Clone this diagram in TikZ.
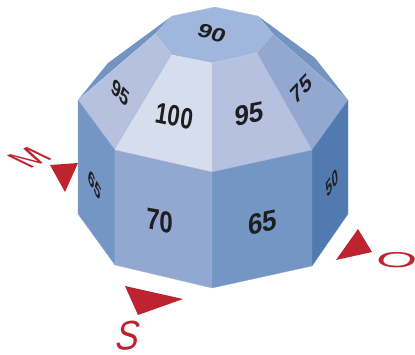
\documentclass[tikz,border=0pt]{standalone}
\usepackage{fontspec}
\setmainfont{Liberation Sans}
\definecolor{ctop}{HTML}{A0B6DC}
\definecolor{cmid}{HTML}{B5C1DE}
\definecolor{clight}{HTML}{D6DDED}
\definecolor{cfl}{HTML}{93A8D0}
\definecolor{cfr}{HTML}{7396C4}
\definecolor{cdark}{HTML}{517BB0}
\definecolor{cback}{HTML}{7394C2}
\definecolor{cred}{HTML}{BE2330}
\definecolor{cink}{HTML}{1E1E20}
\tikzset{
  facet/.style={line width=0.3pt,draw=#1!80!white,fill=#1},
  marker/.style={fill=cred},
}
\newcommand{\lab}[8]{\node[inner sep=0pt,text=cink,cm={#4,#5,#6,#7,(#2,#3)}] (#1) {\fontsize{20}{20}\selectfont\bfseries #8};}
\newcommand{\compass}[8]{\node[inner sep=0pt,text=cred,cm={#4,#5,#6,#7,(#2,#3)}] (#1) {\fontsize{20}{20}\selectfont\itshape #8};}
\begin{document}
\begin{tikzpicture}[x=1pt,y=-1pt]
\useasboundingbox (0,0) rectangle (415,354);
\fill[cback] (172,16)--(155,34)--(78,100)--(108,63)--cycle;
\fill[cback] (258,16)--(273,34)--(348,100)--(315,58)--cycle;
\draw[facet=ctop] (172,16)--(215,7)--(258,16)--(273,34)--(257,53)--(212,63)--(172,55)--(155,34)--cycle;
\draw[facet=cmid] (155,34)--(172,55)--(115,150)--(78,100)--cycle;
\draw[facet=clight] (172,55)--(212,63)--(212,172)--(115,150)--cycle;
\draw[facet=cmid] (212,63)--(257,53)--(312,150)--(212,172)--cycle;
\draw[facet=cfl] (257,53)--(273,34)--(348,100)--(312,150)--cycle;
\draw[facet=cfr] (78,100)--(115,150)--(115,265)--(78,214)--cycle;
\draw[facet=cfl] (115,150)--(212,172)--(212,288)--(115,265)--cycle;
\draw[facet=cfr] (212,172)--(312,150)--(312,266)--(212,288)--cycle;
\draw[facet=cdark] (312,150)--(348,100)--(348,214)--(312,266)--cycle;
\fill[marker] (50,165)--(78,163)--(65,192)--cycle;
\fill[marker] (125,286)--(183,299)--(138,315)--cycle;
\fill[marker] (358,229)--(372,252)--(336,260)--cycle;
\lab{a}{160}{221}{1.2}{-0.22}{0.05}{1.5}{70}
\lab{b}{263}{223}{1.3}{0.27}{0}{1.45}{65}
\lab{c}{174.5}{116}{1.1}{-0.22}{0.22}{1.45}{100}
\lab{d}{249}{114}{1.3}{0.25}{0}{1.4}{95}
\lab{e}{120.5}{92.5}{0.75}{-0.75}{0.28}{1.0}{95}
\lab{f}{301}{89}{0.8}{0.85}{-0.45}{1.0}{75}
\lab{g}{212}{33}{1.2}{-0.35}{0.4}{0.9}{90}
\lab{h}{95}{185}{0.55}{-1.0}{0.2}{0.8}{65}
\lab{i}{332}{183}{0.5}{0.75}{-0.15}{1.0}{50}
\compass{m}{29}{158}{1.5}{0.65}{-2.1}{0.75}{M}
\compass{s}{128}{336}{1.75}{0.1}{0.15}{2.05}{S}
\compass{o}{396}{260}{2.6}{-0.15}{0}{1.1}{O}
\end{tikzpicture}
\end{document}
